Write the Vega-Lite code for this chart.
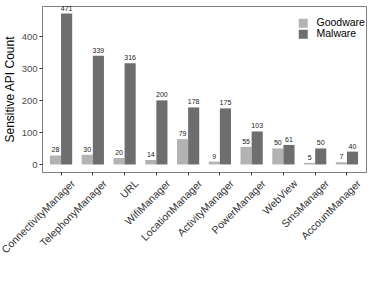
{
  "$schema": "https://vega.github.io/schema/vega-lite/v6.json",
  "autosize": {"type": "none"},
  "padding": {"left": 42, "top": 6, "right": 8, "bottom": 127},
  "width": 324,
  "height": 166,
  "background": "white",
  "config": {
    "font": "Liberation Sans",
    "view": {"stroke": "#7f7f7f", "strokeWidth": 1}
  },
  "data": {
    "values": [
      {"api": "ConnectivityManager", "type": "Goodware", "count": 28},
      {"api": "ConnectivityManager", "type": "Malware", "count": 471},
      {"api": "TelephonyManager", "type": "Goodware", "count": 30},
      {"api": "TelephonyManager", "type": "Malware", "count": 339},
      {"api": "URL", "type": "Goodware", "count": 20},
      {"api": "URL", "type": "Malware", "count": 316},
      {"api": "WifiManager", "type": "Goodware", "count": 14},
      {"api": "WifiManager", "type": "Malware", "count": 200},
      {"api": "LocationManager", "type": "Goodware", "count": 79},
      {"api": "LocationManager", "type": "Malware", "count": 178},
      {"api": "ActivityManager", "type": "Goodware", "count": 9},
      {"api": "ActivityManager", "type": "Malware", "count": 175},
      {"api": "PowerManager", "type": "Goodware", "count": 55},
      {"api": "PowerManager", "type": "Malware", "count": 103},
      {"api": "WebView", "type": "Goodware", "count": 50},
      {"api": "WebView", "type": "Malware", "count": 61},
      {"api": "SmsManager", "type": "Goodware", "count": 5},
      {"api": "SmsManager", "type": "Malware", "count": 50},
      {"api": "AccountManager", "type": "Goodware", "count": 7},
      {"api": "AccountManager", "type": "Malware", "count": 40}
    ]
  },
  "encoding": {
    "x": {
      "field": "api",
      "type": "nominal",
      "sort": null,
      "scale": {"paddingInner": 0.3, "paddingOuter": 0.25},
      "axis": {
        "title": null,
        "labelAngle": -45,
        "labelAlign": "right",
        "labelBaseline": "top",
        "labelFontSize": 10.5,
        "labelColor": "#333333",
        "labelPadding": 3,
        "labelOffset": 9,
        "tickColor": "#333333",
        "tickSize": 3,
        "domain": false
      }
    },
    "xOffset": {"field": "type", "type": "nominal", "scale": {"paddingInner": 0, "paddingOuter": 0}},
    "y": {
      "field": "count",
      "type": "quantitative",
      "scale": {"domain": [-23.55, 494.55], "nice": false, "zero": false},
      "axis": {
        "title": "Sensitive API Count",
        "titleFontSize": 12,
        "titleFontWeight": "normal",
        "titleColor": "#000000",
        "titlePadding": 5,
        "values": [0, 100, 200, 300, 400],
        "labelFontSize": 9.5,
        "labelColor": "#4d4d4d",
        "tickColor": "#333333",
        "tickSize": 3,
        "labelPadding": 2,
        "grid": false,
        "domain": false
      }
    }
  },
  "layer": [
    {
      "mark": {"type": "bar"},
      "encoding": {
        "y2": {"datum": 0},
        "color": {
          "field": "type",
          "type": "nominal",
          "scale": {"domain": ["Goodware", "Malware"], "range": ["#b3b3b3", "#6e6e6e"]},
          "legend": {
            "title": null,
            "orient": "none",
            "legendX": 256,
            "legendY": 12,
            "symbolType": "square",
            "symbolSize": 81,
            "symbolStrokeWidth": 0,
            "symbolOpacity": 1,
            "rowPadding": 0,
            "labelFontSize": 10.5,
            "labelColor": "#000000",
            "labelOffset": 8
          }
        }
      }
    },
    {
      "mark": {"type": "text", "baseline": "bottom", "dy": -2, "fontSize": 7, "color": "#222222"},
      "encoding": {
        "text": {"field": "count", "type": "quantitative"}
      }
    }
  ]
}
